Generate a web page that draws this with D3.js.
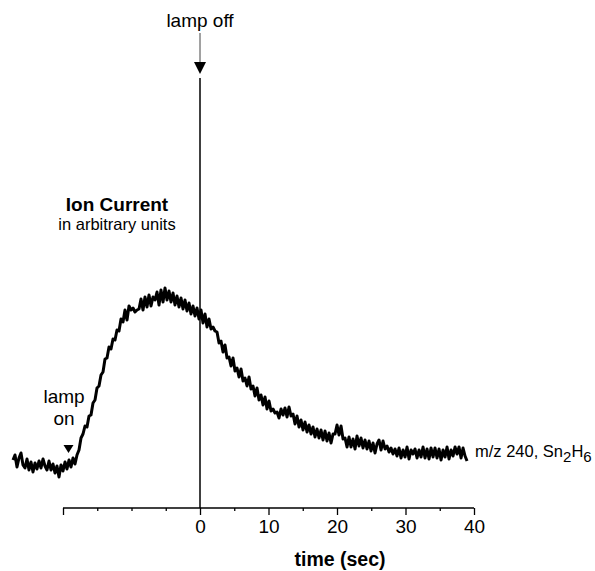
<!DOCTYPE html>
<meta charset="utf-8" />
<title>Ion current, m/z 240</title>
<style>
  body { margin: 0; background: #fff; }
  svg { display: block; font-family: "Liberation Sans", Arial, Helvetica, sans-serif; }
  .axis path, .axis line { stroke: #000; stroke-width: 1.3px; }
  .axis text { font-size: 19px; fill: #000; }
  .trace { fill: none; stroke: #000; stroke-width: 3px; stroke-linejoin: round; }
</style>
<svg width="595" height="571"></svg>
<script src="https://d3js.org/d3.v7.min.js"></script>
<script>
const width = 595, height = 571;
const svg = d3.select("svg");

// time axis (sec)
const majorTicks = [-20, 0, 10, 20, 30, 40];
const minorTicks = [-15, -10, -5, 5, 15, 25, 35];
const tickLabels = ["", "0", "10", "20", "30", "40"];

// ion current trace, sampled every sampleStep seconds (arbitrary units)
const sampleStart = -27.3;
const sampleStep = 0.292;
const ionCurrent = [
  10, 15, 3, 12, 17, 5, 2, 11, 0, 8, -2, 7, 1, 9, 2, 11, 4, 0, 9, 0,
  6, -3, 4, -7, 5, -1, 8, 1, 10, 3, 12, 6, 15, 20, 32, 36, 44, 43, 54, 55,
  67, 70, 82, 84, 95, 98, 111, 112, 123, 121, 131, 130, 140, 139, 151, 148, 160, 150, 164, 160,
  162, 158, 160, 161, 171, 160, 173, 163, 175, 164, 173, 170, 178, 165, 180, 168, 182, 170, 179, 168,
  177, 165, 174, 163, 172, 161, 170, 159, 167, 156, 164, 154, 162, 151, 160, 147, 156, 143, 151, 141,
  143, 139, 138, 127, 129, 118, 125, 112, 113, 104, 112, 99, 102, 93, 101, 89, 92, 84, 93, 81,
  84, 74, 82, 70, 75, 65, 73, 61, 69, 59, 61, 57, 58, 52, 61, 55, 62, 53, 63, 54,
  56, 46, 54, 43, 50, 40, 48, 38, 45, 36, 43, 33, 41, 32, 40, 30, 39, 29, 37, 27,
  36, 36, 45, 35, 44, 31, 32, 23, 33, 23, 31, 21, 34, 24, 32, 22, 30, 21, 29, 19,
  27, 17, 26, 30, 20, 29, 21, 24, 18, 22, 16, 21, 14, 22, 12, 20, 13, 23, 11, 20,
  16, 21, 12, 20, 13, 23, 12, 21, 11, 22, 13, 22, 12, 21, 10, 20, 13, 23, 11, 20,
  14, 23, 16, 23, 12, 22, 14, 9
];

const trace = ionCurrent.map((v, i) => ({ t: sampleStart + i * sampleStep, v }));

const x = d3.scaleLinear().domain([-20, 40]).range([63, 474]);
const y = d3.scaleLinear().domain([0, 180]).range([470, 290]);
const axisY = 508;

// axis
const major = svg.append("g")
  .attr("class", "axis")
  .attr("transform", `translate(0,${axisY})`)
  .call(d3.axisBottom(x)
    .tickValues(majorTicks)
    .tickSize(7)
    .tickSizeOuter(0)
    .tickPadding(5)
    .tickFormat((d, i) => tickLabels[i]));
major.select(".domain").attr("d", `M${x(-20)},0H${x(40)}`);
major.selectAll("text").attr("font-family", null).attr("font-size", null);

svg.append("g")
  .attr("class", "axis")
  .attr("transform", `translate(0,${axisY})`)
  .call(d3.axisBottom(x).tickValues(minorTicks).tickSize(3).tickFormat(""))
  .call(g => g.select(".domain").remove());

svg.append("text")
  .attr("x", 340)
  .attr("y", 566)
  .attr("text-anchor", "middle")
  .attr("font-weight", "bold")
  .attr("font-size", 19.5)
  .text("time (sec)");

// lamp off marker
svg.append("line")
  .attr("x1", x(0)).attr("x2", x(0))
  .attr("y1", 78).attr("y2", axisY)
  .attr("stroke", "#000").attr("stroke-width", 1.5);

svg.append("line")
  .attr("x1", x(0)).attr("x2", x(0))
  .attr("y1", 33).attr("y2", 66)
  .attr("stroke", "#444").attr("stroke-width", 1);

svg.append("path")
  .attr("d", `M${x(0) - 6},62 L${x(0) + 6},62 L${x(0)},74 Z`)
  .attr("fill", "#000");

svg.append("text")
  .attr("x", x(0))
  .attr("y", 27)
  .attr("text-anchor", "middle")
  .attr("font-size", 19)
  .text("lamp off");

// lamp on marker
svg.append("path")
  .attr("d", `M${x(-19.2) - 5},445 L${x(-19.2) + 5},445 L${x(-19.2)},453 Z`)
  .attr("fill", "#000");

svg.append("text")
  .attr("x", 64).attr("y", 403)
  .attr("text-anchor", "middle")
  .attr("font-size", 19)
  .text("lamp");
svg.append("text")
  .attr("x", 64).attr("y", 425)
  .attr("text-anchor", "middle")
  .attr("font-size", 19)
  .text("on");

// y label
svg.append("text")
  .attr("x", 117).attr("y", 211)
  .attr("text-anchor", "middle")
  .attr("font-weight", "bold")
  .attr("font-size", 19)
  .text("Ion Current");
svg.append("text")
  .attr("x", 117).attr("y", 230)
  .attr("text-anchor", "middle")
  .attr("font-size", 16.5)
  .text("in arbitrary units");

// trace
svg.append("path")
  .datum(trace)
  .attr("class", "trace")
  .attr("d", d3.line().x(d => x(d.t)).y(d => y(d.v)));

// species label
const lbl = svg.append("text")
  .attr("x", 475).attr("y", 457)
  .attr("font-size", 16.5);
lbl.append("tspan").text("m/z 240, Sn");
lbl.append("tspan").attr("dy", 5).attr("font-size", 15).text("2");
lbl.append("tspan").attr("dy", -5).text("H");
lbl.append("tspan").attr("dy", 5).attr("font-size", 15).text("6");
</script>
